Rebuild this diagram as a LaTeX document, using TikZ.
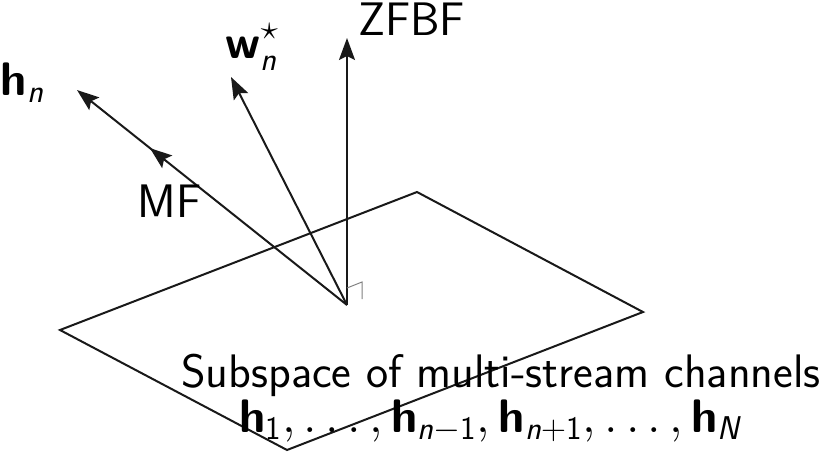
\documentclass[tikz,border=0pt]{standalone}
\usepackage{fontspec}
\usepackage{amsmath}
\usetikzlibrary{arrows.meta,decorations.markings}
\newcommand{\vh}{\text{\textbf{h}}}
\begin{document}
\begin{tikzpicture}[x=0.5pt, y=-0.5pt, line width=1pt, black!90,
    vec/.style={-{Stealth[length=11pt, width=8pt, inset=2pt]}},
    midtip/.style={postaction={decorate}, decoration={markings,
        mark=at position #1 with {\arrow{Stealth[length=11pt, width=8pt, inset=2pt]}}}},
    lbl/.style={inner sep=0pt, anchor=base west, text=black, font=\fontsize{23.5}{28}\selectfont\sffamily}]
    \useasboundingbox (0,0) rectangle (827,452);
    \draw (60,330) -- (417,192) -- (643,312) -- (287,450) -- cycle;
    \coordinate (o) at (347,305);
    \coordinate (zftip) at (347,38);
    \coordinate (wtip) at (231,77);
    \coordinate (htip) at (77,90);
    \draw[vec] (o) -- (zftip);
    \draw[vec] (o) -- (wtip);
    \draw[vec, midtip=0.73] (o) -- (htip);
    \draw[gray, line width=0.5pt] (347,288) -- (362,282) -- (362,299);
    \node[lbl] (zfbf) at (357,35) {ZFBF};
    \node[lbl] (mf) at (137,217) {MF};
    \node[lbl] (hn) at (0,95) {$\vh_{\text{\textit{n}}}$};
    \node[lbl] (wn) at (225,58) {$\text{\textbf{w}}^{\star}_{\text{\textit{n}}}$};
    \node[lbl, anchor=base] (subsp) at (501,387) {Subspace of multi-stream channels};
    \node[lbl, anchor=base] (chans) at (491,432) {$\vh_{\text{1}}, \ldots, \vh_{\text{\textit{n}}-\text{1}}, \vh_{\text{\textit{n}}+\text{1}}, \ldots, \vh_{\text{\textit{N}}}$};
\end{tikzpicture}
\end{document}
